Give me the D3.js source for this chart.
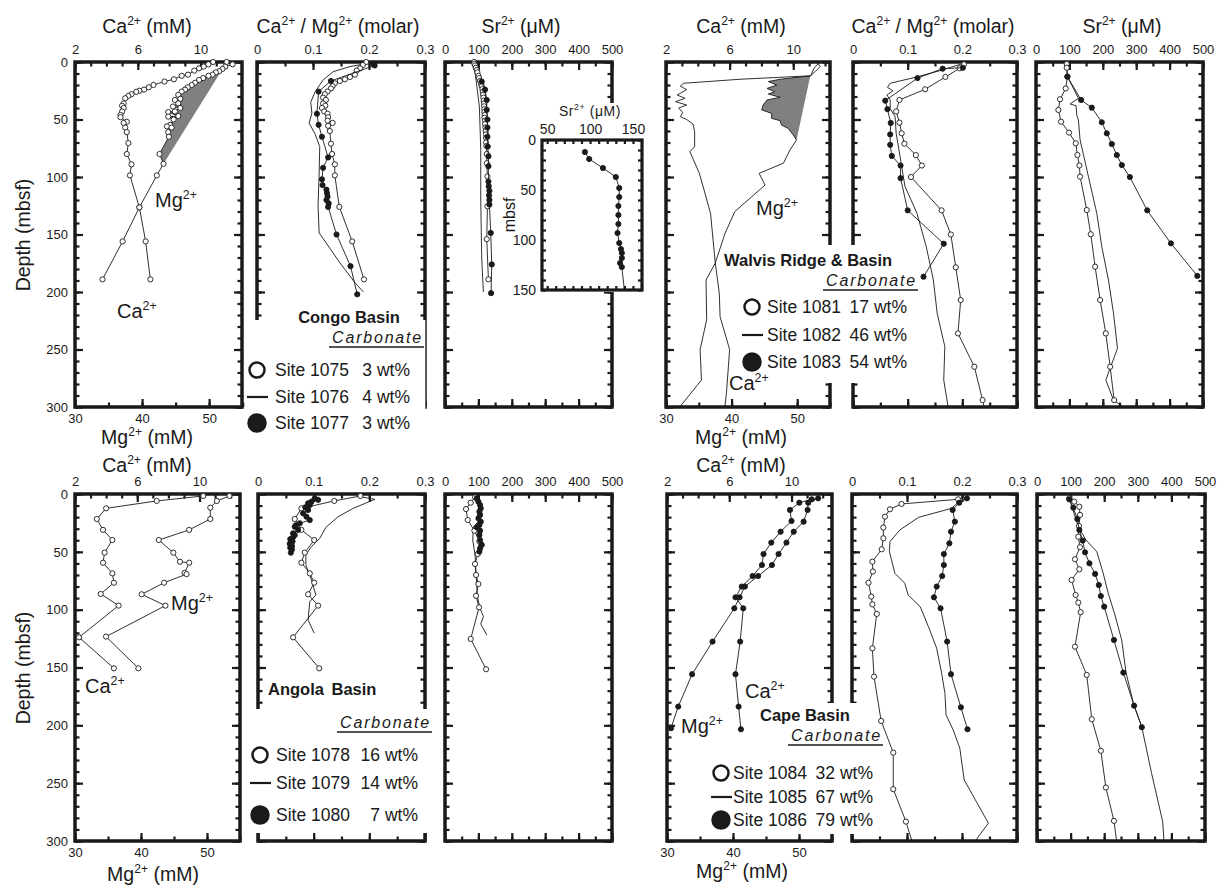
<!DOCTYPE html>
<html>
<head>
<meta charset="utf-8">
<script src="https://cdn.jsdelivr.net/npm/d3@7"></script>
<style>
  body { margin: 0; background: #fff; }
</style>
</head>
<body>
<div id="chart"></div>
<script>
// ---- tick values ----
const caMinor = d3.range(2, 12.5, 1), caLabels = [2, 6, 10];
const mgMinor = d3.range(30, 56, 5), mgLabels = [30, 40, 50];
const ratioMinor = d3.range(0, 0.31, 0.05), ratioLabels = [0, 0.1, 0.2, 0.3];
const srMinor = d3.range(0, 501, 50), srLabels = [0, 100, 200, 300, 400, 500];
const depthMinor = d3.range(0, 301, 10), depthLabels = [0, 50, 100, 150, 200, 250, 300];
const insetSrMinor = d3.range(50, 161, 10), insetSrLabels = [50, 100, 150];
const insetDepthMinor = d3.range(0, 151, 10), insetDepthLabels = [0, 50, 100, 150];

// ---- data: [value, depth (mbsf)], third item 0 = line only, no marker ----
// Congo Basin
const ca1075 = [[10.8,0],[10.5,2],[10.2,4],[9.9,5.5],[9.6,7.5],[9.2,11],[8.8,12],[8.3,15],[7.7,17],[7.0,20],[6.7,22],[6.4,24],[6.1,25],[5.9,26],[5.6,28],[5.4,29.5],[5.2,31.5],[5.1,36],[5.0,38],[5.1,40],[5.0,43],[4.9,46],[4.9,48],[5.3,52],[5.1,53],[5.2,57],[5.3,61],[5.4,70.5],[5.3,80],[5.6,89],[5.5,98.6],[6.1,126.4],[6.5,156],[6.8,189]];
const mg1075 = [[52.6,0],[53.5,2],[52.4,4],[52.0,6],[51.5,8],[51.0,9],[50.5,11],[49.9,12],[49.1,14],[48.5,15.6],[47.9,18],[47.4,20],[46.8,22],[46.4,24],[45.9,25.7],[45.4,28.6],[45.7,32],[44.9,33],[45.4,36],[44.6,38.7],[45.7,40],[44.9,43],[43.9,43.5],[45.4,47],[43.9,47.5],[44.7,50],[44.2,54.6],[43.7,56],[44.4,57],[43.9,61],[44.0,65],[42.6,80],[43.2,88.5],[42.2,98.6],[39.6,126.4],[37.1,156],[34.1,189]];
const mix1075 = [6, 88.5];
const ratio1075 = [[0.195,0],[0.189,2.6],[0.184,5.5],[0.178,7.5],[0.175,11],[0.166,13],[0.157,15],[0.148,16.5],[0.139,18.5],[0.135,21],[0.132,23],[0.126,25.7],[0.121,28],[0.118,31],[0.123,33],[0.118,36],[0.122,38],[0.116,40],[0.120,43],[0.126,45],[0.127,48],[0.126,51],[0.135,53],[0.127,55.5],[0.130,60],[0.132,71],[0.134,80],[0.139,89],[0.139,98.6],[0.147,126],[0.170,156],[0.191,189]];
const ratio1076 = [[0.199,1],[0.166,4],[0.136,8.4],[0.118,15.6],[0.104,25.7],[0.096,35],[0.098,44.5],[0.093,53],[0.104,63],[0.112,73.5],[0.111,96.5],[0.109,125.5],[0.111,148.6],[0.148,174.6],[0.175,192],[0.190,200]];
const ratio1077 = [[0.208,1.5],[0.21,3],[0.132,16.5],[0.110,25.7],[0.107,45],[0.110,54.6],[0.116,65],[0.127,83],[0.118,92],[0.116,102],[0.117,107],[0.124,111],[0.125,114],[0.126,117],[0.124,120],[0.128,123],[0.127,126],[0.142,150],[0.167,177.5],[0.179,202]];
const sr1075 = [[87,0],[88,1.5],[90,3],[92,5],[95,7],[97,9],[100,12],[102,14],[105,16.5],[108,19],[110,21],[112,23.5],[113,26],[114,28.5],[115,31],[116,33.5],[117,36],[117,38.5],[118,41],[118,43.5],[119,46],[118,48.5],[120,51],[120,54],[121,57],[122,60],[123,63],[123,66],[123,70],[124,73],[125,80],[125,88],[127,99.5],[127,125.5],[125,154],[130,189]];
const sr1076 = [[85,0],[93,15.6],[103,39],[107,76],[107,120],[110,172],[115,200]];
const sr1077 = [[110,17],[120,24],[125,33],[125,41.6],[127,50],[127,57],[127,65],[128,73.5],[130,82],[130,90.6],[130,104],[131,108],[133,112],[132,116],[133,120],[133,124],[137,148.6],[140,176],[138,201]];
const srInset1077 = [[94,12],[99,19],[115,28],[130,37],[134,48],[134,57],[133,66],[133,75],[133,84],[132,93],[134,103],[136,109],[137,113],[137,118],[135,123],[137,127],[140,150,0]];

// Walvis Ridge & Basin
const ca1082 = [[11.6,1],[11.3,5.5],[11.1,12],[6.65,15],[3.1,18.5],[2.9,21],[3.3,24],[2.7,28.7],[3.2,31.6],[2.6,34.5],[3.3,37.4],[2.8,40],[3.05,44],[2.9,47.5],[3.3,50],[3.7,54],[3.8,60.6],[3.8,73.6],[3.5,78],[4.1,96.8],[4.8,131.6],[5.1,175],[5.35,201],[5.4,221.5],[6.0,250],[5.8,288],[5.7,300]];
const mg1082 = [[53.1,0.6],[53.5,4],[52.8,8],[52.0,12],[47.4,15],[45.6,17],[46.9,20],[45.4,23],[46.6,25.8],[45.6,27.8],[47.4,30.7],[45.4,33],[44.8,37.4],[44.6,41.7],[46.1,44.6],[46.1,49],[47.4,51],[47.6,54.8],[48.6,57.7],[49.4,63.5],[49.9,67.8],[48.9,76.5],[47.9,88],[44.2,96.8],[45.1,107],[40.5,130],[39.0,149],[37.5,175],[36.1,189.6],[36.2,224],[35.2,250],[35.4,276.5],[32.1,300]];
const mix1082 = [12, 67.8];
const ratio1081 = [[0.203,2],[0.195,5.5],[0.169,13],[0.132,23.7],[0.085,33],[0.079,43],[0.085,52.7],[0.089,62],[0.094,71],[0.115,81],[0.126,90],[0.106,100],[0.162,129],[0.179,150],[0.188,178.5],[0.197,207],[0.192,236],[0.222,265],[0.237,294],[0.24,300,0]];
const ratio1082 = [[0.207,0.5],[0.159,7.5],[0.117,13],[0.068,18.5],[0.063,22],[0.073,25],[0.062,28.7],[0.068,33],[0.068,40.5],[0.077,47.5],[0.079,62],[0.086,82],[0.095,108],[0.117,131.6],[0.134,160.6],[0.147,189.6],[0.154,218.5],[0.168,247.5],[0.166,276.5],[0.174,300]];
const ratio1083 = [[0.201,5],[0.164,5.8],[0.118,14],[0.059,33.6],[0.063,41],[0.069,53],[0.068,63],[0.068,72],[0.071,81.7],[0.087,90],[0.087,101],[0.100,129],[0.166,158],[0.129,186.7]];
const sr1081 = [[92,1.7],[92,5],[94,12.7],[89,23],[72,32.4],[67,41.7],[75,51.9],[99,61.4],[119,70.7],[124,80.9],[130,90],[132,99.7],[152,128.7],[164,149.8],[177,178],[192,207],[209,236],[222,265],[234,294]];
const sr1082 = [[92,1],[94,12.7],[127,31.6],[102,36.5],[120,38],[122,46],[127,50.4],[132,67.8],[157,99.7],[182,131.6],[197,160.6],[217,189.6],[232,218.5],[244,249],[209,276.5],[232,294],[261,300]];
const sr1083 = [[94,12.7],[135,33],[167,39.7],[197,52.4],[212,62],[227,71.3],[242,80.9],[257,89.6],[281,100],[333,129],[404,157.7],[483,186]];

// Angola Basin
const ca1078 = [[10.24,1.7],[7.25,6],[4.0,12.4],[3.4,21.6],[3.8,31],[4.4,39.8],[3.9,50.7],[3.8,59.4],[4.4,68.6],[4.5,76.7],[3.65,86.4],[4.8,96.5],[2.26,123.9],[4.5,150.7]];
const mg1078 = [[53.4,1.7],[51.5,6],[50.5,11.8],[50.5,21.6],[47.3,31],[42.7,39.8],[44.9,50.7],[45.9,58.6],[47.3,59.4],[46.6,68.2],[46.9,69.3],[43.5,76.7],[40.1,86.7],[43.7,96.5],[34.7,123.3],[39.6,150.7]];
const ratio1078 = [[0.184,1.7],[0.137,6],[0.078,12.4],[0.066,21.6],[0.078,31],[0.101,39.8],[0.084,50.7],[0.078,59.4],[0.093,68.6],[0.101,76.7],[0.090,86.7],[0.108,96.5],[0.063,123.9],[0.110,150.7]];
const ratio1079 = [[0.183,2.3],[0.210,4.6],[0.171,12.4],[0.144,19.6],[0.122,28.8],[0.111,38.3],[0.096,45.5],[0.086,52.7],[0.086,61.4],[0.096,74.3],[0.104,87.3],[0.093,93],[0.090,109],[0.101,120.4]];
const ratio1080 = [[0.102,3.7],[0.108,5],[0.096,6.6],[0.090,8],[0.093,9.5],[0.085,11.5],[0.090,13.8],[0.081,16.7],[0.087,19.6],[0.093,22.5],[0.075,25.3],[0.068,27],[0.066,28.3],[0.072,31],[0.063,34],[0.066,35.5],[0.063,37.4],[0.058,39],[0.062,41],[0.057,43],[0.061,45],[0.058,46.5],[0.061,48],[0.059,50.7]];
const sr1078 = [[90,2.9],[77,7.5],[63,13],[68,22.5],[88,31.7],[103,41],[98,51.9],[90,60.5],[93,70],[100,77.8],[93,88],[102,98],[77,125.3],[123,151.5]];
const sr1079 = [[90,2.9],[105,9.5],[103,22.5],[85,28.8],[83,39.8],[90,52.7],[93,68.6],[97,88.7],[105,98.8],[115,106],[107,112.4],[125,121.9]];
const sr1080 = [[95,3.7],[100,6.6],[105,9.5],[107,12.4],[103,15.3],[105,18.1],[100,21],[107,23.9],[103,26.8],[95,28.8],[105,31.7],[103,35.4],[105,39.8],[110,44],[105,47],[103,49.8]];

// Cape Basin
const ca1086 = [[11.3,4.6],[10.5,7.5],[9.9,13.8],[10.0,23.3],[9.3,32.6],[8.7,42],[8.2,51.9],[8.1,61.4],[7.5,70.9],[6.8,80],[6.4,89.3],[6.9,98.8],[6.7,127.6],[6.4,155.8],[6.6,183.8],[6.75,203.4]];
const mg1086 = [[52.9,3.7],[51.4,7.5],[51.3,13.8],[50.7,23.9],[49.2,32.6],[48.1,42],[46.9,51.9],[45.9,61.4],[43.8,70.9],[41.8,80],[41.0,89.3],[40.2,98.8],[36.9,127.6],[33.8,155.8],[31.7,183.8],[30.6,202.5]];
const ratio1084 = [[0.193,4.6],[0.090,8.6],[0.069,13.2],[0.060,19.6],[0.057,29],[0.057,38.3],[0.054,47.8],[0.037,58.5],[0.038,67],[0.030,76.7],[0.035,88.7],[0.037,95.4],[0.045,103.7],[0.037,133.4],[0.040,157.9],[0.053,196.2],[0.075,223.6],[0.075,255.2],[0.098,283.2],[0.109,300,0]];
const ratio1085 = [[0.196,5.8],[0.181,12.4],[0.121,20.2],[0.087,31.1],[0.069,41.2],[0.068,49.8],[0.078,68.6],[0.096,77.2],[0.102,87.3],[0.124,97.4],[0.139,114.7],[0.154,133.4],[0.163,155],[0.169,172.3],[0.171,191],[0.184,204],[0.196,219.8],[0.204,247.2],[0.248,284.6],[0.224,300]];
const ratio1086 = [[0.209,3.7],[0.195,7.5],[0.183,13.8],[0.187,23.9],[0.180,32.6],[0.177,42.6],[0.167,51.9],[0.167,61.4],[0.164,70.9],[0.154,80],[0.149,89.3],[0.161,98.8],[0.173,127.6],[0.180,155.8],[0.198,184.4],[0.210,203.4]];
const sr1084 = [[96,3.7],[111,6.6],[126,11],[128,18.1],[125,27.6],[123,36.9],[128,46],[113,56.4],[126,65.1],[103,74.3],[115,87.3],[123,93.9],[130,102.2],[113,132],[148,156.4],[163,194.7],[190,222],[205,253.8],[229,282.6],[237,300,0]];
const sr1085 = [[96,3.7],[123,28.3],[146,39.8],[178,49.9],[197,68.6],[212,85.8],[232,104.6],[252,126.2],[265,154.4],[287,181],[312,201.6],[341,241.4],[374,283.2],[378,300]];
const sr1086 = [[96,4.6],[108,11.8],[120,21.6],[126,31.1],[136,40.3],[143,50.4],[156,59.9],[173,69.1],[184,78.7],[190,88.2],[200,97.4],[229,126.2],[257,154.4],[289,183],[312,201.6]];

// legends
const legendStyles = ["open", "line", "filled"];
const congoSites = ["Site 1075", "Site 1076", "Site 1077"], congoWt = ["3 wt%", "4 wt%", "3 wt%"];
const walvisSites = ["Site 1081", "Site 1082", "Site 1083"], walvisWt = ["17 wt%", "46 wt%", "54 wt%"];
const angolaSites = ["Site 1078", "Site 1079", "Site 1080"], angolaWt = ["16 wt%", "14 wt%", "7 wt%"];
const capeSites = ["Site 1084", "Site 1085", "Site 1086"], capeWt = ["32 wt%", "67 wt%", "79 wt%"];

// ---- drawing ----
const INK = "#1a1a1a";
const svg = d3.select("#chart").append("svg")
    .attr("width", 1222).attr("height", 889)
    .style("font-family", "'Liberation Sans', Arial, Helvetica, sans-serif");

const gFrames = svg.append("g");
const gCover = svg.append("g");
const gData = svg.append("g");
const gText = svg.append("g");

// text with superscripts written as ^2+
function rich(g, x, y, str, size, anchor, weight) {
    const t = g.append("text").attr("x", x).attr("y", y)
        .attr("font-size", size).attr("text-anchor", anchor || "start")
        .attr("fill", INK).style("white-space", "pre");
    if (weight) t.attr("font-weight", weight);
    let up = false;
    str.split(/(\^[^\s]+)/).filter(s => s.length).forEach(p => {
        if (p[0] === "^") {
            t.append("tspan").attr("font-size", size * 0.62).attr("dy", -size * 0.42).text(p.slice(1));
            up = true;
        } else {
            t.append("tspan").attr("dy", up ? size * 0.42 : 0).text(p);
            up = false;
        }
    });
    return t;
}

function ticks(g, axis, values, len, tx, ty) {
    g.append("g").attr("transform", `translate(${tx},${ty})`)
        .call(axis.tickValues(values).tickSize(-len).tickFormat(""))
        .call(a => a.select(".domain").remove())
        .selectAll("line").attr("stroke", INK).attr("stroke-width", 2.2);
}

function labels(g, axis, values, tx, ty, pad, size) {
    g.append("g").attr("transform", `translate(${tx},${ty})`)
        .call(axis.tickValues(values).tickSize(0).tickPadding(pad).tickFormat(d => String(d)))
        .call(a => a.select(".domain").remove())
        .attr("font-size", size).attr("font-family", null)
        .selectAll("text").attr("fill", INK);
}

function panel(o) {
    const x = d3.scaleLinear().domain(o.top).range([o.x0, o.x0 + o.w]);
    const xb = o.bot ? d3.scaleLinear().domain(o.bot).range([o.x0, o.x0 + o.w]) : x;
    const y = d3.scaleLinear().domain([0, o.dMax || 300]).range([o.y0, o.y0 + o.h]);
    const g = gFrames.append("g");
    const tl = o.tl || 8, ts = o.ts || 4.5;
    ticks(g, d3.axisTop(x), o.topMinor, ts, 0, o.y0);
    ticks(g, d3.axisTop(x), o.topMajor, tl, 0, o.y0);
    ticks(g, d3.axisBottom(xb), o.botMinor || o.topMinor, ts, 0, o.y0 + o.h);
    ticks(g, d3.axisBottom(xb), o.botMajor || o.topMajor, tl, 0, o.y0 + o.h);
    ticks(g, d3.axisLeft(y), o.dMinor || depthMinor, ts, o.x0, 0);
    ticks(g, d3.axisLeft(y), o.dMajor || depthLabels, tl, o.x0, 0);
    ticks(g, d3.axisRight(y), o.dMinor || depthMinor, ts, o.x0 + o.w, 0);
    ticks(g, d3.axisRight(y), o.dMajor || depthLabels, tl, o.x0 + o.w, 0);
    g.append("rect").attr("x", o.x0).attr("y", o.y0).attr("width", o.w).attr("height", o.h)
        .attr("fill", "none").attr("stroke", INK).attr("stroke-width", o.sw || 3.5);
    const fs = o.fs || 13;
    if (o.topLab) labels(gText, d3.axisTop(x), o.topMajor, 0, o.y0, 8, fs);
    if (o.botLab) labels(gText, d3.axisBottom(xb), o.botMajor, 0, o.y0 + o.h, 7, fs);
    if (o.leftLab) labels(gText, d3.axisLeft(y), o.dMajor || depthLabels, o.x0, 0, 7, fs);
    return { x, xb, y };
}

function series(s, sx, data, style) {
    gData.append("path").datum(data)
        .attr("d", d3.line().x(d => sx(d[0])).y(d => s.y(d[1])))
        .attr("fill", "none").attr("stroke", INK).attr("stroke-width", 0.9);
    if (style === "line") return;
    gData.append("g").selectAll("circle").data(data.filter(d => d[2] !== 0)).join("circle")
        .attr("cx", d => sx(d[0])).attr("cy", d => s.y(d[1])).attr("r", 2.6)
        .attr("fill", style === "filled" ? INK : "#fff")
        .attr("stroke", INK).attr("stroke-width", 0.9);
}

function mixing(s, data, range) {
    const pts = data.filter(d => d[1] >= range[0] && d[1] <= range[1]);
    gData.append("path")
        .attr("d", d3.line().x(d => s.xb(d[0])).y(d => s.y(d[1]))(pts) + "Z")
        .attr("fill", "#808080");
}

function cover(x, y, w, h) {
    gCover.append("rect").attr("x", x).attr("y", y).attr("width", w).attr("height", h).attr("fill", "#fff");
}

function legend(o, sites, wts) {
    const g = gText.append("g");
    rich(g, o.titleX, o.titleY, o.title, 16.5, o.titleAnchor, "bold").attr("word-spacing", o.ws || 0);
    g.append("text").attr("x", o.carbX).attr("y", o.carbY).attr("text-anchor", "end")
        .attr("font-size", 16).attr("font-style", "italic").attr("letter-spacing", 1.8)
        .attr("fill", INK).text("Carbonate");
    g.append("line").attr("x1", o.carbX - 94).attr("x2", o.carbX + 1)
        .attr("y1", o.carbY + 4).attr("y2", o.carbY + 4).attr("stroke", INK).attr("stroke-width", 1.6);
    sites.forEach((site, i) => {
        const yy = o.rows[i], st = legendStyles[i];
        if (st === "line") {
            g.append("line").attr("x1", o.markX - 10).attr("x2", o.markX + 11)
                .attr("y1", yy).attr("y2", yy).attr("stroke", INK).attr("stroke-width", 2.2);
        } else {
            g.append("circle").attr("cx", o.markX).attr("cy", yy).attr("r", st === "open" ? 7.5 : 8.5)
                .attr("fill", st === "open" ? "#fff" : INK).attr("stroke", INK).attr("stroke-width", 2.5);
        }
        g.append("text").attr("x", o.textX).attr("y", yy + 6).attr("font-size", 17.5).attr("fill", INK).text(site);
        g.append("text").attr("x", o.wtX).attr("y", yy + 6).attr("text-anchor", "end")
            .attr("font-size", 17.5).attr("fill", INK).text(wts[i]);
    });
}

// ---- row 1 ----
const caMg = { topMinor: caMinor, topMajor: caLabels, botMinor: mgMinor, botMajor: mgLabels, topLab: true, botLab: true };
const ratioP = { top: [0, 0.3], topMinor: ratioMinor, topMajor: ratioLabels, topLab: true };
const srP = { top: [0, 500], topMinor: srMinor, topMajor: srLabels, topLab: true };

const p1 = panel(Object.assign({ x0: 75, w: 167, y0: 62, h: 345, top: [2, 12.64], bot: [30, 54.9], leftLab: true }, caMg));
const p2 = panel(Object.assign({ x0: 257, w: 168, y0: 62, h: 345 }, ratioP));
const p3 = panel(Object.assign({ x0: 445, w: 167, y0: 62, h: 345 }, srP));
const p4 = panel(Object.assign({ x0: 666, w: 164, y0: 62, h: 345, top: [2, 12.31], bot: [30, 55] }, caMg));
const p5 = panel(Object.assign({ x0: 853, w: 164, y0: 62, h: 345 }, ratioP));
const p6 = panel(Object.assign({ x0: 1036, w: 167, y0: 62, h: 345 }, srP));

// ---- row 2 ----
const p7 = panel(Object.assign({ x0: 75, w: 165, y0: 494, h: 347, top: [2, 12.6], bot: [30, 55], leftLab: true }, caMg));
const p8 = panel(Object.assign({ x0: 258, w: 167, y0: 494, h: 347 }, ratioP));
const p9 = panel(Object.assign({ x0: 445, w: 167, y0: 494, h: 347 }, srP));
const p10 = panel(Object.assign({ x0: 667, w: 165, y0: 494, h: 347, top: [2, 12.6], bot: [30, 55] }, caMg));
const p11 = panel(Object.assign({ x0: 852, w: 165, y0: 494, h: 347 }, ratioP));
const p12 = panel(Object.assign({ x0: 1037, w: 168, y0: 494, h: 347 }, srP));

// legend areas break the frames
cover(246, 320, 179.2, 125);
gCover.append("line").attr("x1", 425.5).attr("x2", 425.5).attr("y1", 320).attr("y2", 408)
    .attr("stroke", "#666").attr("stroke-width", 1);
cover(722, 245, 198, 138);
cover(246, 709, 190, 124);
cover(756, 703, 130, 131);
cover(498, 103, 148, 189);

// inset on the Congo Sr panel
const pin = (function () {
    const x = d3.scaleLinear().domain([44, 160.5]).range([542, 642]);
    const y = d3.scaleLinear().domain([0, 150]).range([140, 290]);
    const g = gCover.append("g");
    g.append("rect").attr("x", 542).attr("y", 140).attr("width", 100).attr("height", 150).attr("fill", "#fff");
    ticks(g, d3.axisTop(x), insetSrMinor, 4, 0, 140);
    ticks(g, d3.axisBottom(x), insetSrMinor, 4, 0, 290);
    ticks(g, d3.axisLeft(y), insetDepthMinor, 4, 542, 0);
    ticks(g, d3.axisRight(y), insetDepthMinor, 4, 642, 0);
    g.append("rect").attr("x", 542).attr("y", 140).attr("width", 100).attr("height", 150)
        .attr("fill", "none").attr("stroke", INK).attr("stroke-width", 3.2);
    labels(gText, d3.axisTop(x), insetSrLabels, 0, 140, 6, 14);
    labels(gText, d3.axisLeft(y), insetDepthLabels, 542, 0, 6, 14);
    return { x, y };
})();

// ---- data ----
mixing(p1, mg1075, mix1075);
series(p1, p1.x, ca1075, "open");
series(p1, p1.xb, mg1075, "open");
series(p2, p2.x, ratio1076, "line");
series(p2, p2.x, ratio1075, "open");
series(p2, p2.x, ratio1077, "filled");
series(p3, p3.x, sr1076, "line");
series(p3, p3.x, sr1075, "open");
series(p3, p3.x, sr1077, "filled");
series(pin, pin.x, srInset1077, "filled");

mixing(p4, mg1082, mix1082);
series(p4, p4.x, ca1082, "line");
series(p4, p4.xb, mg1082, "line");
series(p5, p5.x, ratio1082, "line");
series(p5, p5.x, ratio1081, "open");
series(p5, p5.x, ratio1083, "filled");
series(p6, p6.x, sr1082, "line");
series(p6, p6.x, sr1081, "open");
series(p6, p6.x, sr1083, "filled");

series(p7, p7.x, ca1078, "open");
series(p7, p7.xb, mg1078, "open");
series(p8, p8.x, ratio1079, "line");
series(p8, p8.x, ratio1078, "open");
series(p8, p8.x, ratio1080, "filled");
series(p9, p9.x, sr1079, "line");
series(p9, p9.x, sr1078, "open");
series(p9, p9.x, sr1080, "filled");

series(p10, p10.x, ca1086, "filled");
series(p10, p10.xb, mg1086, "filled");
series(p11, p11.x, ratio1085, "line");
series(p11, p11.x, ratio1084, "open");
series(p11, p11.x, ratio1086, "filled");
series(p12, p12.x, sr1085, "line");
series(p12, p12.x, sr1084, "open");
series(p12, p12.x, sr1086, "filled");

// ---- axis titles ----
const TS = 19.5;
rich(gText, 147, 33, "Ca^2+ (mM)", TS, "middle");
rich(gText, 147, 444, "Mg^2+ (mM)", TS, "middle");
rich(gText, 338, 33, "Ca^2+ / Mg^2+ (molar)", TS, "middle");
rich(gText, 521, 33, "Sr^2+ (\u03bcM)", TS, "middle");
rich(gText, 741, 33, "Ca^2+ (mM)", TS, "middle");
rich(gText, 741, 444, "Mg^2+ (mM)", TS, "middle");
rich(gText, 933, 33, "Ca^2+ / Mg^2+ (molar)", TS, "middle");
rich(gText, 1122, 33, "Sr^2+ (\u03bcM)", TS, "middle");
rich(gText, 147, 472, "Ca^2+ (mM)", TS, "middle");
rich(gText, 153, 881, "Mg^2+ (mM)", TS, "middle");
rich(gText, 741, 472, "Ca^2+ (mM)", TS, "middle");
rich(gText, 742, 878, "Mg^2+ (mM)", TS, "middle");
rich(gText, 0, 0, "Depth (mbsf)", 19.5, "middle").attr("transform", "translate(30,235) rotate(-90)");
rich(gText, 0, 0, "Depth (mbsf)", 19.5, "middle").attr("transform", "translate(30,668) rotate(-90)");
rich(gText, 590, 116, "Sr^2+ (\u03bcM)", 14, "middle").attr("letter-spacing", 0.6);
rich(gText, 0, 0, "mbsf", 16, "middle").attr("transform", "translate(515,215) rotate(-90)");

// in-panel curve labels
rich(gText, 155, 207, "Mg^2+", 20);
rich(gText, 117, 318, "Ca^2+", 20);
rich(gText, 756, 215, "Mg^2+", 20);
rich(gText, 729, 390, "Ca^2+", 20);
rich(gText, 171, 610, "Mg^2+", 20);
rich(gText, 85, 693, "Ca^2+", 20);
rich(gText, 745, 698, "Ca^2+", 20);
rich(gText, 681, 733, "Mg^2+", 20);

// ---- legends ----
legend({ title: "Congo Basin", titleX: 349, titleY: 323, titleAnchor: "middle", carbX: 423, carbY: 343,
         rows: [370, 397, 423], markX: 257, textX: 275, wtX: 410 }, congoSites, congoWt);
legend({ title: "Walvis Ridge & Basin", titleX: 724, titleY: 266, carbX: 917, carbY: 286,
         rows: [307, 335, 362], markX: 752, textX: 767, wtX: 907 }, walvisSites, walvisWt);
legend({ title: "Angola Basin", titleX: 268, titleY: 695, ws: 3, carbX: 431, carbY: 728,
         rows: [755, 783, 815], markX: 260, textX: 276, wtX: 418 }, angolaSites, angolaWt);
legend({ title: "Cape Basin", titleX: 760, titleY: 721, carbX: 882, carbY: 741,
         rows: [773, 797, 820], markX: 721, textX: 733, wtX: 873 }, capeSites, capeWt);
</script>
</body>
</html>
